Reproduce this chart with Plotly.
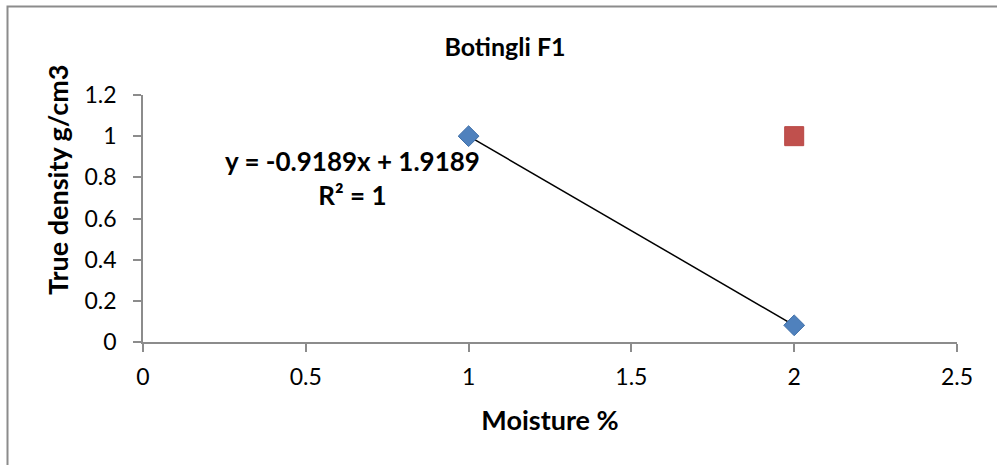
import numpy as np
import plotly.graph_objects as go

# Measured samples
moisture = [1, 2]
true_density = [1.0, 0.0811]
# Second series
extra_x = [2]
extra_y = [1.0]

x_ticks = [0, 0.5, 1, 1.5, 2, 2.5]
x_tick_text = ["0", "0.5", "1", "1.5", "2", "2.5"]
y_ticks = [0, 0.2, 0.4, 0.6, 0.8, 1.0, 1.2]
y_tick_text = ["0", "0.2", "0.4", "0.6", "0.8", "1", "1.2"]

# Linear trendline through the measured samples
slope, intercept = np.polyfit(moisture, true_density, 1)
fit_x = np.array([min(moisture), max(moisture)])
fit_y = slope * fit_x + intercept
r2 = 1.0

FONT = "Lato, Calibri, 'Liberation Sans', sans-serif"
GRAY = "#8c8c8c"

W, H = 997, 465
ML, MR, MT, MB = 143, 40, 95, 123
PW, PH = W - ML - MR, H - MT - MB

fig = go.Figure()
fig.add_trace(go.Scatter(
    x=fit_x, y=fit_y, mode="lines",
    line=dict(color="black", width=1.5), showlegend=False, hoverinfo="skip"))
fig.add_trace(go.Scatter(
    x=moisture, y=true_density, mode="markers",
    marker=dict(symbol="diamond", size=16, color="#4F81BD",
                line=dict(color="#3f6fa8", width=1)),
    showlegend=False))
fig.add_trace(go.Scatter(
    x=extra_x, y=extra_y, mode="markers",
    marker=dict(symbol="square", size=19, color="#C0504D",
                line=dict(color="#b84744", width=1)),
    showlegend=False))

eq = f"y = {slope:.4f}x + {intercept:.4f}<br>R² = {r2:g}"
fig.add_annotation(
    x=0.642, y=0.795, xref="x", yref="y", text=f"<b>{eq}</b>",
    showarrow=False, align="center",
    font=dict(family=FONT, size=26, color="black"))

# Vertical axis title, placed beside the axis
fig.add_annotation(
    x=(57 - ML) / PW, y=(H - MB - 180) / PH, xref="paper", yref="paper",
    text="<b>True density g/cm3</b>", textangle=-90, showarrow=False,
    xanchor="center", yanchor="middle",
    font=dict(family=FONT, size=27, color="black"))

# Chart-area border
fig.add_shape(type="rect", xref="paper", yref="paper",
              x0=(7.5 - ML) / PW, x1=1.2, y0=-0.7, y1=(H - MB - 6.5) / PH,
              line=dict(color=GRAY, width=2), fillcolor="rgba(0,0,0,0)",
              layer="below")

fig.update_layout(
    width=W, height=H,
    margin=dict(l=ML, r=MR, t=MT, b=MB),
    paper_bgcolor="white", plot_bgcolor="white",
    font=dict(family=FONT, size=23, color="black"),
    title=dict(text="<b>Botingli F1</b>", x=505 / W, xref="container",
               xanchor="center", y=1 - 47 / H, yref="container",
               yanchor="middle",
               font=dict(family=FONT, size=25, color="black")),
    xaxis=dict(range=[0, 2.5], tickvals=x_ticks, ticktext=x_tick_text,
               showgrid=False, zeroline=False, showline=True,
               linecolor=GRAY, linewidth=1.5, ticks="outside",
               ticklen=8, tickcolor=GRAY, tickwidth=1.5,
               tickfont=dict(size=23), ticklabelstandoff=6,
               title=dict(text="<b>Moisture %</b>", standoff=22,
                          font=dict(size=27))),
    yaxis=dict(range=[0, 1.2], tickvals=y_ticks, ticktext=y_tick_text,
               showgrid=False, zeroline=False, showline=True,
               linecolor=GRAY, linewidth=1.5, ticks="outside",
               ticklen=8, tickcolor=GRAY, tickwidth=1.5,
               tickfont=dict(size=23), ticklabelstandoff=12),
)

fig.write_html("out.html")
